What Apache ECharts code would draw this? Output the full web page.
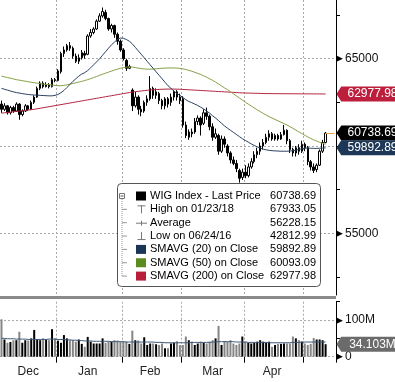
<!DOCTYPE html>
<html><head><meta charset="utf-8">
<script src="https://cdn.jsdelivr.net/npm/echarts@6/dist/echarts.min.js"></script>
<style>html,body{margin:0;padding:0;background:#fff}#c{width:395px;height:382px}</style>
</head><body><div id="c"></div>
<script>
// ---------------- DATA ----------------
const dates = [
'2017-12-01','2017-12-04','2017-12-05','2017-12-06','2017-12-07','2017-12-08','2017-12-11','2017-12-12','2017-12-13','2017-12-14',
'2017-12-15','2017-12-18','2017-12-19','2017-12-20','2017-12-21','2017-12-22','2017-12-27','2017-12-28','2017-12-29',
'2018-01-02','2018-01-03','2018-01-04','2018-01-05','2018-01-08','2018-01-09','2018-01-10','2018-01-11','2018-01-12','2018-01-15',
'2018-01-16','2018-01-17','2018-01-18','2018-01-19','2018-01-22','2018-01-23','2018-01-24','2018-01-25','2018-01-26','2018-01-29',
'2018-01-30','2018-01-31',
'2018-02-01','2018-02-02','2018-02-05','2018-02-06','2018-02-07','2018-02-08','2018-02-09','2018-02-12','2018-02-13','2018-02-14',
'2018-02-15','2018-02-16','2018-02-19','2018-02-20','2018-02-21','2018-02-22','2018-02-23','2018-02-26','2018-02-27','2018-02-28',
'2018-03-01','2018-03-02','2018-03-05','2018-03-06','2018-03-07','2018-03-08','2018-03-09','2018-03-12','2018-03-13','2018-03-14',
'2018-03-15','2018-03-16','2018-03-19','2018-03-20','2018-03-21','2018-03-22','2018-03-23','2018-03-26','2018-03-27','2018-03-28',
'2018-03-29',
'2018-04-03','2018-04-04','2018-04-05','2018-04-06','2018-04-09','2018-04-10','2018-04-11','2018-04-12','2018-04-13','2018-04-16',
'2018-04-17','2018-04-18','2018-04-19','2018-04-20','2018-04-23','2018-04-24','2018-04-25','2018-04-26','2018-04-27','2018-04-30',
'2018-05-02','2018-05-04','2018-05-07','2018-05-08','2018-05-09','2018-05-10','2018-05-11','2018-05-14'
];
const padDates = ['2018-05-15','2018-05-16','2018-05-17'];
const monthLabels = [['2017-12-14','Dec'],['2018-01-16','Jan'],['2018-02-14','Feb'],['2018-03-15','Mar'],['2018-04-16','Apr']];

const open = [
62400,62100,62300,61900,62200,62000,62400,61800,62000,62300,62100,62500,62800,63300,63600,63400,63500,63400,63800,
63750,64250,65300,65500,65750,65600,65150,64850,65050,65300,65250,66300,66500,66700,67150,67450,67650,67300,66700,66900,66400,66000,
65500,64900,64450,63200,62300,62800,62100,62000,62500,62700,63300,62900,63000,62600,62300,62700,62500,62800,63100,62800,
62700,61200,60500,60800,60800,61400,61600,61300,61900,61700,61100,60500,60600,59700,60400,60000,59600,59200,59000,58600,58200,
58500,58300,58800,59100,59500,59700,60000,60200,60500,60700,60400,60600,60400,60650,60900,60300,59800,59600,59900,59700,
60100,59900,59100,58800,58650,58900,59700,60200
];
const high = [
62600,62450,62350,62300,62300,62500,62450,62100,62400,62350,62600,62900,63400,63700,63700,63650,63600,63900,63900,
64400,65400,65700,65850,65950,65700,65300,65250,65500,65450,66400,66700,66800,67250,67600,67933.05,67800,67350,67000,66950,66500,66100,
65600,65000,64650,63300,63100,62900,62300,62600,62900,64000,63400,63300,63100,62700,62800,62800,63000,63200,63200,63000,
62850,61400,60950,61000,61600,61750,61700,62100,62200,61800,61300,61000,60700,60600,60550,60100,59700,59400,59200,58700,58700,
58900,59000,59300,59700,59900,60200,60400,60700,60900,60800,60700,60700,60800,61200,60950,60400,59900,60000,60100,60300,
60200,60000,59200,59000,59000,59800,60350,60800
];
const low = [
61900,62000,61800,61800,61900,61950,61500,61700,61950,62000,62050,62400,62750,63200,63300,63350,63300,63350,63650,
63700,64150,65100,65400,65450,65000,64750,64700,64950,65000,65200,66200,66400,66650,67100,67350,67200,66600,66500,66200,65800,65400,
64900,64300,64400,62000,62200,61800,61700,61900,62300,62600,62700,62700,62400,62100,62100,62200,62300,62600,62600,62400,
61050,60450,60350,60500,60700,61200,60600,61200,61500,60900,60300,60400,59500,59600,59900,59400,59000,58900,58500,57900,58050,
58150,58200,58700,59000,59300,59500,59800,60100,60300,60300,60300,60300,60350,60600,60100,59600,59400,59400,59500,59600,
59700,58900,58600,58450,58500,58850,59600,60150
];
const close = [
62100,62300,61900,62200,62000,62400,61800,62000,62300,62100,62500,62800,63300,63600,63400,63500,63400,63800,63750,
64300,65300,65500,65750,65600,65150,64850,65050,65350,65200,66300,66500,66700,67150,67450,67700,67300,66700,66900,66400,66000,65500,
65000,64450,64550,62300,62800,62100,61950,62500,62700,63300,62900,63100,62600,62300,62700,62400,62800,63100,62800,62600,
61200,60600,60800,60700,61400,61600,61200,61900,61700,61100,60500,60700,59700,60400,60100,59600,59200,59000,58700,58150,58500,
58300,58800,59100,59500,59700,60000,60200,60500,60700,60400,60600,60400,60650,60900,60300,59800,59600,59900,59700,60100,
59900,59100,58800,58600,58900,59700,60200,60738.69
];
const sma20 = [
63300,63250,63200,63150,63100,63060,63030,63000,62970,62950,62930,62920,62910,62900,62890,62880,62870,62870,62900,
62950,63050,63180,63350,63520,63700,63850,64000,64120,64200,64320,64480,64650,64820,65000,65200,65400,65600,65800,65950,66100,66180,
66170,66100,66000,65850,65650,65450,65250,65050,64850,64650,64450,64250,64050,63850,63650,63450,63300,63150,63000,62900,
62780,62650,62550,62480,62400,62320,62220,62120,62000,61880,61730,61600,61450,61300,61150,61020,60900,60780,60660,60540,60420,
60320,60220,60120,60030,59950,59880,59820,59780,59750,59730,59720,59710,59700,59700,59700,59710,59730,59760,59800,59840,
59870,59880,59870,59860,59860,59870,59880,59892.89
];
const sma50 = [
64000,63960,63920,63880,63840,63800,63770,63740,63710,63680,63650,63620,63600,63570,63550,63530,63510,63490,63470,
63450,63450,63470,63500,63540,63580,63620,63660,63700,63750,63800,63860,63920,63980,64050,64110,64170,64230,64290,64350,64400,64450,
64490,64520,64530,64520,64490,64460,64430,64410,64400,64400,64410,64420,64440,64450,64460,64470,64470,64470,64460,64450,
64420,64380,64330,64280,64220,64160,64100,64020,63940,63850,63760,63660,63550,63440,63330,63220,63110,62990,62870,62750,62630,
62510,62400,62290,62180,62070,61970,61870,61770,61680,61600,61520,61440,61360,61280,61200,61110,61010,60910,60810,60710,
60610,60520,60430,60350,60280,60210,60150,60093.09
];
const sma200 = [
61880,61900,61920,61940,61960,61980,62000,62020,62040,62060,62080,62100,62130,62160,62190,62220,62250,62280,62310,
62340,62370,62400,62430,62460,62490,62520,62550,62580,62610,62640,62670,62700,62730,62760,62790,62820,62850,62880,62910,62940,62970,
63000,63030,63060,63090,63110,63130,63150,63170,63190,63210,63220,63230,63240,63250,63255,63260,63260,63260,63255,63250,
63240,63230,63220,63210,63200,63190,63180,63170,63160,63150,63140,63130,63120,63110,63100,63090,63080,63070,63060,63050,63040,
63035,63030,63025,63020,63015,63010,63005,63000,63000,62998,62996,62995,62994,62993,62992,62991,62990,62989,62988,62987,
62986,62985,62984,62983,62982,62981,62980,62977.98
];
// volume in millions
const volume = [
102,47,38,40,45,45,68,38,45,44,50,73,47,45,50,47,45,75,50,
44,38,59,50,45,45,41,47,35,27,54,41,36,36,36,50,38,41,41,45,44,41,
41,41,35,71,45,44,36,53,32,36,36,34,32,36,23,23,36,38,42,32,
32,55,45,41,32,36,41,38,36,41,45,50,84,32,43,41,45,36,32,36,55,
41,38,36,38,41,45,41,38,41,27,32,35,35,36,36,36,55,50,45,41,
36,32,35,51,47,47,45,34.103
];
const volumeAvg = [
50,50,49,49,49,48,48,48,48,47,47,47,47,47,47,47,48,48,48,
47,47,47,46,46,45,45,44,44,43,43,43,42,42,42,42,42,42,41,41,41,41,
41,40,40,40,40,40,40,40,40,40,40,39,39,39,38,38,38,38,38,38,
38,38,38,39,39,39,39,39,39,39,40,40,41,41,41,41,41,41,40,40,40,
40,39,39,39,39,39,39,39,38,38,38,38,38,38,38,38,39,39,39,40,
40,40,40,40,40,40,40,40
];
const legendLabels = ['WIG Index - Last Price','High on 01/23/18','Average','Low on 06/24/16','SMAVG (20) on Close','SMAVG (50) on Close','SMAVG (200) on Close'];
const legendValues = ['60738.69','67933.05','56228.15','42812.99','59892.89','60093.09','62977.98'];
const legendIcons = ['square','high','avg','low','square','square','square'];

// ---------------- STYLE ----------------
const FONT = 'Liberation Sans';
const C_SMA20 = '#2b4262', C_SMA50 = '#86a047', C_SMA200 = '#b3253f';
const legendColors = ['#000','#777','#777','#777','#1b3556','#5b8a1e','#b81d3a'];
const GRID_DASH = {color:'#a8a8a8', type:[2,2], width:1};

const cats = dates.concat(padDates);
const lastCat = cats.length - 1;
const lastIdx = close.length - 1;
const monthOf = d => d.slice(0, 7);
const isMonthStart = i => i > 0 && monthOf(cats[i]) !== monthOf(cats[i - 1]);
const labelMap = {};
monthLabels.forEach(([d, m]) => { labelMap[d] = m; });

const candleData = open.map((o, i) => [o, close[i], low[i], high[i]]);
const volData = volume.map((v, i) => ({value: v, itemStyle: {color: close[i] >= open[i] ? '#000' : '#858585'}}));

const TAG_PATH = 'path://M0,7.5L5,0L70,0L70,15L5,15Z';
function tag(value, text, color) {
  return {
    coord: [lastCat, value], symbol: TAG_PATH, symbolSize: [66, 15], symbolOffset: [35, 0],
    itemStyle: {color: color},
    label: {show: true, position: 'inside', formatter: text, color: '#fff', fontSize: 12, fontFamily: FONT, offset: [3, 0]}
  };
}

// legend graphics
const g = [];
const rowY0 = 196, rowStep = 13.35;
const LFONT = '11px "Liberation Sans"';
g.push({type:'rect', shape:{x:117.5, y:183.5, width:203, height:103, r:4}, style:{fill:'#fff', stroke:'#555', lineWidth:1}, z:100});
g.push({type:'line', shape:{x1:122, y1:199, x2:122, y2:rowY0 + 6*rowStep}, style:{stroke:'#999', lineWidth:1, lineDash:[1,1]}, z:101});
g.push({type:'rect', shape:{x:119.5, y:193.5, width:5, height:5}, style:{fill:'#fff', stroke:'#777', lineWidth:1}, z:102});
g.push({type:'line', shape:{x1:120.5, y1:196, x2:123.5, y2:196}, style:{stroke:'#555', lineWidth:1}, z:103});
legendLabels.forEach((lab, i) => {
  const y = rowY0 + i * rowStep;
  if (i > 0) g.push({type:'line', shape:{x1:122, y1:y, x2:127, y2:y}, style:{stroke:'#999', lineWidth:1}, z:101});
  const kind = legendIcons[i], col = legendColors[i];
  if (kind === 'square') {
    g.push({type:'rect', shape:{x:136, y:y - 4.5, width:10, height:9}, style:{fill:col}, z:102});
  } else if (kind === 'high') {
    g.push({type:'line', shape:{x1:141.5, y1:y - 4, x2:141.5, y2:y + 4}, style:{stroke:col, lineWidth:1}, z:102});
    g.push({type:'line', shape:{x1:137.5, y1:y - 3.5, x2:145.5, y2:y - 3.5}, style:{stroke:col, lineWidth:1}, z:102});
  } else if (kind === 'low') {
    g.push({type:'line', shape:{x1:141.5, y1:y - 4, x2:141.5, y2:y + 4}, style:{stroke:col, lineWidth:1}, z:102});
    g.push({type:'line', shape:{x1:137.5, y1:y + 3.5, x2:145.5, y2:y + 3.5}, style:{stroke:col, lineWidth:1}, z:102});
  } else {
    g.push({type:'line', shape:{x1:136, y1:y + 0.5, x2:147, y2:y + 0.5}, style:{stroke:col, lineWidth:1}, z:102});
    g.push({type:'line', shape:{x1:141.5, y1:y - 2, x2:141.5, y2:y + 3}, style:{stroke:col, lineWidth:1}, z:102});
  }
  g.push({type:'text', style:{x:150, y:y, text:lab, fill:'#000', font:LFONT, textVerticalAlign:'middle', textAlign:'left'}, z:102});
  g.push({type:'text', style:{x:316, y:y, text:legendValues[i], fill:'#000', font:LFONT, textVerticalAlign:'middle', textAlign:'right'}, z:102});
});
// panel separator
g.push({type:'rect', shape:{x:0, y:296, width:336, height:3}, style:{fill:'#8a8a8a'}, z:50});

const option = {
  animation: false,
  backgroundColor: '#fff',
  grid: [
    {left:0, top:0, width:336, height:295, outerBoundsMode:'none'},
    {left:0, top:15.05, width:336, height:261.85, outerBoundsMode:'none'},
    {left:0, top:301.7, width:336, height:55, outerBoundsMode:'none'}
  ],
  xAxis: [
    {gridIndex:0, type:'category', data:cats, boundaryGap:true,
     axisLine:{show:false, onZero:false}, axisTick:{show:false}, axisLabel:{show:false},
     splitLine:{show:true, interval:(i) => isMonthStart(i), lineStyle:GRID_DASH}},
    {gridIndex:1, type:'category', data:cats, boundaryGap:true, show:false, axisLine:{onZero:false}},
    {gridIndex:2, type:'category', data:cats, boundaryGap:true,
     axisLine:{show:false, onZero:false},
     axisTick:{show:true, interval:(i) => isMonthStart(i), length:6, lineStyle:{color:'#000'}},
     axisLabel:{show:true, interval:(i, v) => (v in labelMap), formatter:(v) => labelMap[v] || '',
                fontSize:12, color:'#222', fontFamily:FONT, margin:9},
     splitLine:{show:true, interval:(i) => isMonthStart(i), lineStyle:GRID_DASH}}
  ],
  yAxis: [
    {gridIndex:0, type:'value', position:'right', min:0, max:1,
     axisLine:{show:true, lineStyle:{color:'#000', width:1}}, axisTick:{show:false}, axisLabel:{show:false}, splitLine:{show:false}},
    {gridIndex:1, type:'value', position:'right', min:52500, max:67500, interval:2500,
     axisLine:{show:false}, axisTick:{show:true, length:4, lineStyle:{color:'#000'}},
     axisLabel:{margin:0, fontSize:12, color:'#111', fontFamily:FONT,
       formatter:(v) => (v === 65000 || v === 55000) ? '{a|▶}' + v : '',
       rich:{a:{fontSize:9, color:'#000', padding:[0,2,0,0]}}},
     splitLine:{show:true, lineStyle:{color:['rgba(0,0,0,0)','#a8a8a8'], type:[2,2], width:1}}},
    {gridIndex:2, type:'value', position:'right', min:0, max:150, interval:50,
     axisLine:{show:true, lineStyle:{color:'#000', width:1}}, axisTick:{show:true, length:4, lineStyle:{color:'#000'}},
     axisLabel:{margin:0, fontSize:12, color:'#111', fontFamily:FONT,
       formatter:(v) => v === 100 ? '{a|▶}100M' : (v === 0 ? '{a|▶}0' : ''),
       rich:{a:{fontSize:9, color:'#000', padding:[0,2,0,0]}}},
     splitLine:{show:true, lineStyle:{color:['#a8a8a8','rgba(0,0,0,0)','#a8a8a8','rgba(0,0,0,0)'], type:[2,2], width:1}}}
  ],
  series: [
    {name:'WIG Index', type:'candlestick', xAxisIndex:1, yAxisIndex:1, data:candleData, clip:false, z:2,
     barWidth:2,
     itemStyle:{color:'#fff', color0:'#000', borderColor:'#000', borderColor0:'#000', borderWidth:1},
     markLine:{silent:true, symbol:['none','none'], label:{show:false},
       lineStyle:{color:'#e8a33d', width:1, type:'solid'},
       data:[[{coord:[lastIdx, close[lastIdx]]}, {coord:[lastCat, close[lastIdx]]}]]},
     markPoint:{silent:true, z:20, data:[tag(close[lastIdx], close[lastIdx].toFixed(2), '#000')]}},
    {name:'SMAVG (200)', type:'line', xAxisIndex:1, yAxisIndex:1, data:sma200, symbol:'none', clip:false, z:3,
     lineStyle:{color:C_SMA200, width:1},
     markPoint:{silent:true, z:20, data:[tag(sma200[lastIdx], sma200[lastIdx].toFixed(2), '#bd1e3c')]}},
    {name:'SMAVG (50)', type:'line', xAxisIndex:1, yAxisIndex:1, data:sma50, symbol:'none', clip:false, z:3,
     lineStyle:{color:C_SMA50, width:1}},
    {name:'SMAVG (20)', type:'line', xAxisIndex:1, yAxisIndex:1, data:sma20, symbol:'none', clip:false, z:3,
     lineStyle:{color:C_SMA20, width:1},
     markPoint:{silent:true, z:20, data:[tag(sma20[lastIdx], sma20[lastIdx].toFixed(2), '#1d3857')]}},
    {name:'Volume', type:'bar', xAxisIndex:2, yAxisIndex:2, data:volData, barWidth:2, z:2,
     markPoint:{silent:true, z:20, data:[tag(volume[lastIdx], volume[lastIdx].toFixed(3) + 'M', '#6b6b6b')]}},
    {name:'Volume Avg', type:'line', xAxisIndex:2, yAxisIndex:2, data:volumeAvg, symbol:'none', z:3,
     lineStyle:{color:'#3d5878', width:1}}
  ],
  graphic: {elements: g}
};
const chart = echarts.init(document.getElementById('c'));
chart.setOption(option);
</script>
</body></html>
